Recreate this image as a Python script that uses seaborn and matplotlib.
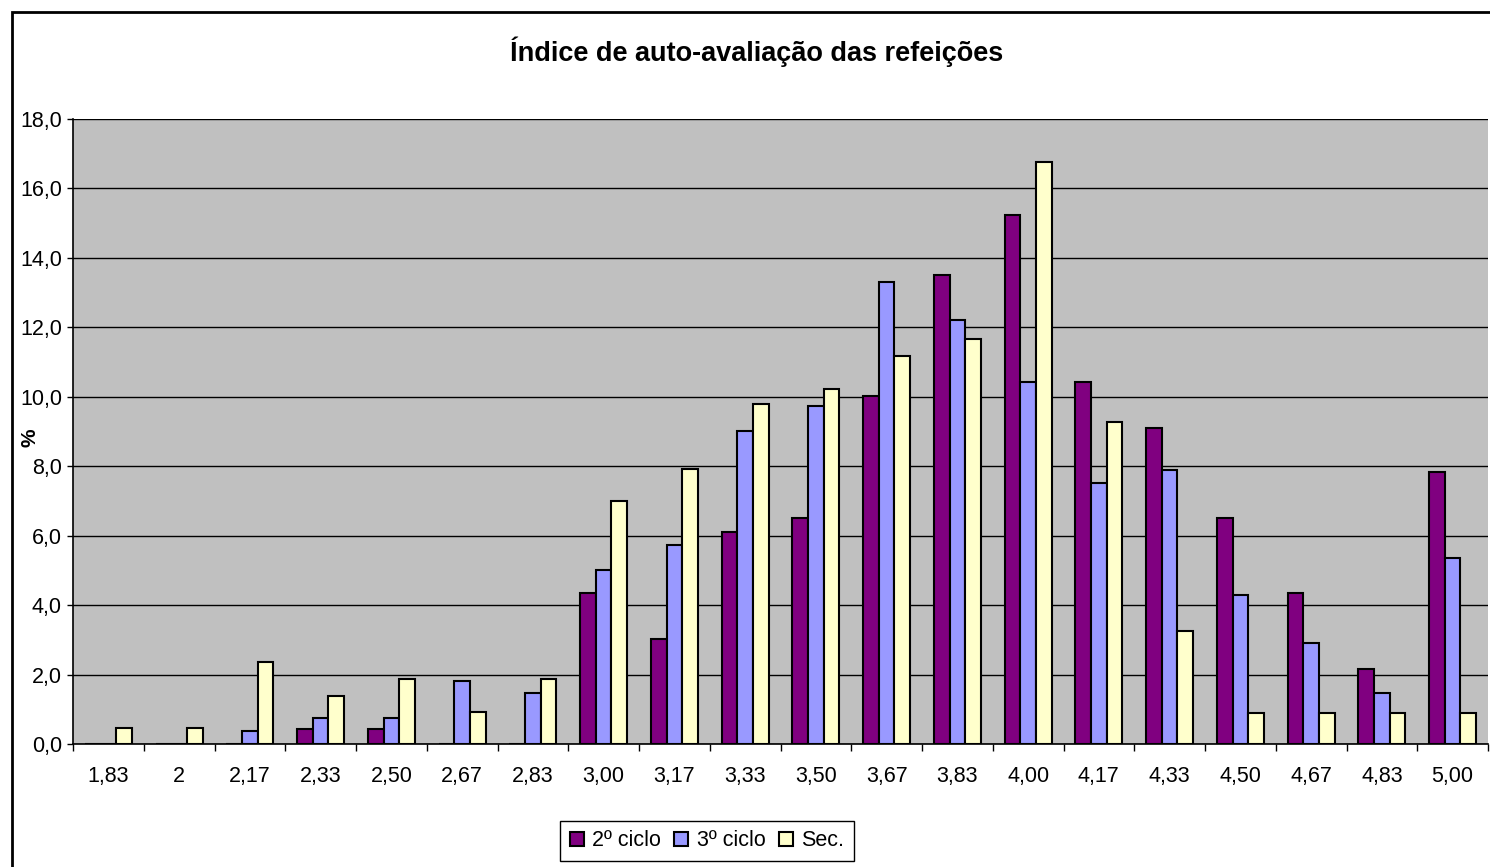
import seaborn as sns
import matplotlib.pyplot as plt
import pandas as pd
from matplotlib.patches import Rectangle
from matplotlib.ticker import FixedLocator

# Categories (index values) and the % per school level
indices = ['1,83', '2', '2,17', '2,33', '2,50', '2,67', '2,83', '3,00', '3,17', '3,33',
           '3,50', '3,67', '3,83', '4,00', '4,17', '4,33', '4,50', '4,67', '4,83', '5,00']
ciclo2 = [0, 0, 0, 0.44, 0.44, 0, 0, 4.35, 3.03, 6.10,
          6.52, 10.03, 13.50, 15.24, 10.42, 9.11, 6.51, 4.34, 2.17, 7.83]
ciclo3 = [0, 0, 0.37, 0.74, 0.74, 1.82, 1.46, 5.02, 5.74, 9.01,
          9.74, 13.31, 12.22, 10.44, 7.52, 7.90, 4.28, 2.90, 1.46, 5.36]
sec = [0.47, 0.47, 2.37, 1.39, 1.88, 0.91, 1.88, 7.01, 7.92, 9.80,
       10.22, 11.18, 11.66, 16.75, 9.28, 3.25, 0.90, 0.90, 0.90, 0.90]
series_names = ['2º ciclo', '3º ciclo', 'Sec.']
series_colors = ['#800080', '#9999FF', '#FFFFCC']
yticks = [0, 2, 4, 6, 8, 10, 12, 14, 16, 18]

# Long-form table for seaborn
df = pd.DataFrame({
    'indice': indices * 3,
    'pct': ciclo2 + ciclo3 + sec,
    'nivel': [series_names[0]] * 20 + [series_names[1]] * 20 + [series_names[2]] * 20,
})

sns.set_theme(style='ticks')
plt.rcParams['font.family'] = ['Liberation Sans', 'DejaVu Sans']
plt.rcParams.update({'text.color': 'black', 'axes.labelcolor': 'black',
                     'xtick.color': 'black', 'ytick.color': 'black'})

fig = plt.figure(figsize=(14.9, 8.67), dpi=100)
ax = fig.add_axes([73 / 1490, 1 - 744 / 867, (1488 - 73) / 1490, (744 - 119) / 867])
ax.set_facecolor('#C0C0C0')

sns.barplot(data=df, x='indice', y='pct', hue='nivel', order=indices,
            hue_order=series_names, palette=series_colors, width=0.667, gap=0,
            edgecolor='black', linewidth=1.5, saturation=1, ax=ax)

ax.set_ylim(0, 18)
ax.set_xlim(-0.5, len(indices) - 0.5)
ax.set_yticks(yticks)
ax.set_yticklabels([f'{v:.1f}'.replace('.', ',') for v in yticks], fontsize=15.5)
ax.yaxis.grid(True, color='black', linewidth=1)
ax.set_axisbelow(True)
ax.tick_params(axis='y', length=4, width=1, color='black', pad=4)
ax.tick_params(axis='x', which='major', length=0, labelsize=15.5, pad=16)
ax.xaxis.set_minor_locator(FixedLocator([i - 0.5 for i in range(len(indices) + 1)]))
ax.tick_params(axis='x', which='minor', length=5, width=1, color='black')
ax.set_xlabel('')
ax.set_ylabel('%', fontsize=15, fontweight='bold')
ax.yaxis.set_label_coords((39 - 73) / 1415, 0.49)

for side in ['left', 'bottom']:
    ax.spines[side].set_color('black')
    ax.spines[side].set_linewidth(1.2)
for side in ['top', 'right']:
    ax.spines[side].set_visible(False)

fig.text(757 / 1490, 1 - 52 / 867, 'Índice de auto-avaliação das refeições',
         ha='center', va='center', fontsize=19.5, fontweight='bold')

handles, labels = ax.get_legend_handles_labels()
ax.legend(handles, labels, loc='center', bbox_to_anchor=(707 / 1490, 1 - 841 / 867),
          bbox_transform=fig.transFigure, ncol=3, fontsize=15.5, frameon=True,
          fancybox=False, edgecolor='black', framealpha=1, handlelength=0.65,
          handleheight=0.65, handletextpad=0.4, columnspacing=0.6, borderpad=0.45)
ax.get_legend().get_frame().set_linewidth(1)

# Outer chart frame (right and bottom edges are cut off in the reference)
fig.patches.append(Rectangle((12 / 1490, -0.1), 1.2, 0.1 + 1 - 12 / 867,
                             transform=fig.transFigure, fill=False,
                             edgecolor='black', linewidth=2))

fig.savefig('out.png', dpi=100, facecolor='white')
plt.close()
